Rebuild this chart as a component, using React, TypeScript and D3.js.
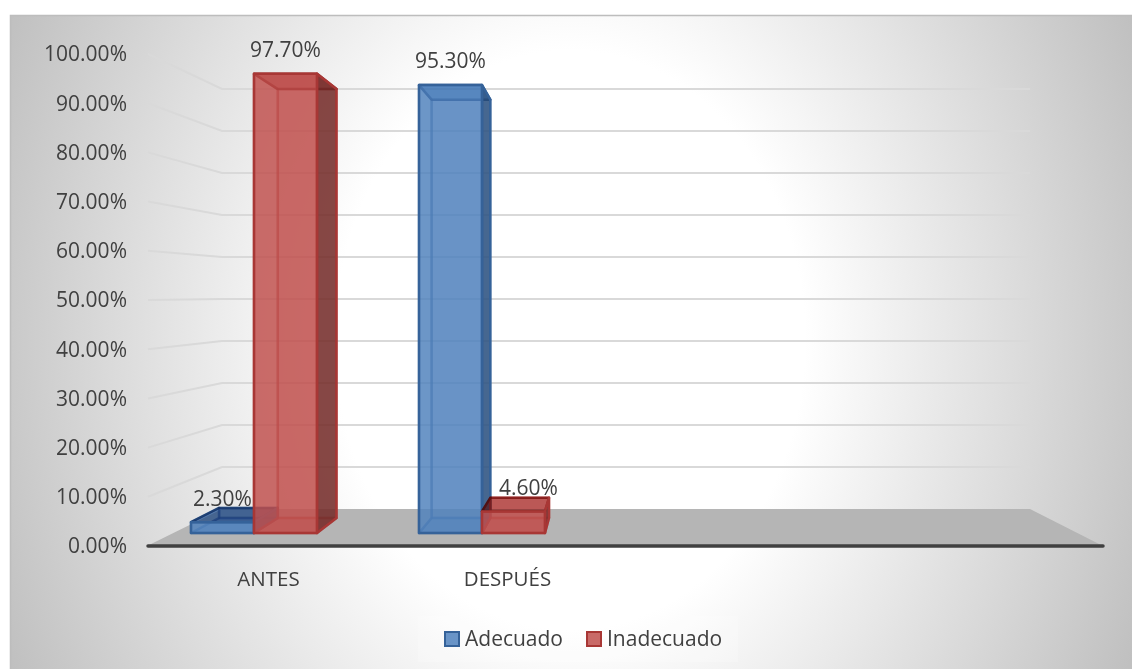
import { scaleBand, scaleLinear } from 'd3';

const categories = ['ANTES', 'DESPUÉS', ' ', '  '];
const seriesNames = ['Adecuado', 'Inadecuado'];
const adecuado = [2.3, 95.3];
const inadecuado = [97.7, 4.6];
const yTicks = [0, 10, 20, 30, 40, 50, 60, 70, 80, 90, 100];

const seriesValues = [adecuado, inadecuado];
const seriesColors = [
  { face: '#4f81bd', line: '#356299', side: '#2b4f7c' },
  { face: '#c0504d', line: '#a83735', side: '#702c2a' },
];

const width = 1132;
const height = 669;

// wall / floor of the 3d box
const yFront = scaleLinear().domain([0, 100]).range([546, 54]);
const yBack = scaleLinear().domain([0, 100]).range([509, 89]);
const axisX = scaleBand<string>().domain(categories).range([147, 1103]);

// the bars stand on a plane a little inside the floor
const barFrontY = scaleLinear().domain([0, 100]).range([533, 63]);
const barBackY = scaleLinear().domain([0, 100]).range([518, 79]);
const barX = scaleBand<string>().domain(categories).range([140, 1052]);
const subX = scaleBand<string>()
  .domain(seriesNames)
  .range([0, barX.bandwidth()])
  .paddingInner(0)
  .paddingOuter(0.81);
const toBackX = scaleLinear().domain([192, 545]).range([220, 549]);

const pts = (p: number[][]) => p.map((d) => d.join(',')).join(' ');

function Bar({ cat, name, value, si }: { cat: string; name: string; value: number; si: number }) {
  const x0 = (barX(cat) ?? 0) + (subX(name) ?? 0);
  const x1 = x0 + subX.bandwidth();
  const bx0 = toBackX(x0);
  const bx1 = toBackX(x1);
  const fy0 = barFrontY(0);
  const fy1 = barFrontY(value);
  const by0 = barBackY(0);
  const by1 = barBackY(value);
  const c = seriesColors[si];
  const common = { stroke: c.line, strokeWidth: 2.5, strokeLinejoin: 'round' as const };
  return (
    <g>
      {/* back */}
      <polygon points={pts([[bx0, by1], [bx1, by1], [bx1, by0], [bx0, by0]])} fill={c.face} fillOpacity={0.35} {...common} strokeOpacity={0.45} />
      {/* floor */}
      <polygon points={pts([[x0, fy0], [x1, fy0], [bx1, by0], [bx0, by0]])} fill={c.face} fillOpacity={0.5} {...common} strokeOpacity={0.45} />
      {/* left */}
      <polygon points={pts([[x0, fy1], [bx0, by1], [bx0, by0], [x0, fy0]])} fill={c.face} fillOpacity={0.25} {...common} strokeOpacity={0.45} />
      {/* top */}
      <polygon
        points={pts([[x0, fy1], [x1, fy1], [bx1, by1], [bx0, by1]])}
        fill={c.face}
        fillOpacity={0.8}
        style={{ mixBlendMode: 'multiply' }}
        {...common}
      />
      {/* right */}
      <polygon points={pts([[x1, fy1], [bx1, by1], [bx1, by0], [x1, fy0]])} fill={c.side} fillOpacity={0.82} {...common} />
      {/* front */}
      <polygon points={pts([[x0, fy1], [x1, fy1], [x1, fy0], [x0, fy0]])} fill={c.face} fillOpacity={0.78} {...common} />
    </g>
  );
}

export default function App() {
  const textStyle = { fontFamily: '"Open Sans", "Noto Sans", sans-serif', fill: '#404040' };
  return (
    <svg
      width={width}
      height={height}
      viewBox={`0 0 ${width} ${height}`}
      style={{ position: 'absolute', left: 0, top: 0, background: '#fff' }}
    >
      <defs>
        <radialGradient
          id="bg"
          gradientUnits="userSpaceOnUse"
          cx={0}
          cy={0}
          r={1.03}
          gradientTransform="translate(570,340) scale(600,740)"
        >
          <stop offset="0" stopColor="#ffffff" />
          <stop offset="0.38" stopColor="#ffffff" />
          <stop offset="1" stopColor="#c0c0c0" />
        </radialGradient>
      </defs>
      <rect x={10.5} y={15.5} width={width} height={height} fill="url(#bg)" stroke="#bdbdbd" strokeWidth={1.5} />

      {/* floor */}
      <polygon
        points={pts([[axisX.range()[0], yFront(0)], [222, yBack(0)], [1030, yBack(0)], [axisX.range()[1], yFront(0)]])}
        fill="#b5b5b5"
      />

      {/* gridlines */}
      {yTicks.slice(1).map((t) => (
        <polyline
          key={t}
          points={pts([[148, yFront(t)], [222, yBack(t)], [1030, yBack(t)]])}
          fill="none"
          stroke="#d9d9d9"
          strokeWidth={2}
        />
      ))}

      {/* axis line */}
      <line x1={148} x2={1103} y1={yFront(0)} y2={yFront(0)} stroke="#404040" strokeWidth={3.5} strokeLinecap="round" />

      {yTicks.map((t) => (
        <text key={t} x={127} y={yFront(t)} dy="0.35em" textAnchor="end" fontSize={21} style={textStyle}>
          {t.toFixed(2)}%
        </text>
      ))}

      {categories.map((c) => (
        <text key={c} x={(axisX(c) ?? 0) + axisX.bandwidth() / 2 + 2} y={579} dy="0.35em" textAnchor="middle" fontSize={20.5} style={textStyle}>
          {c.trim()}
        </text>
      ))}

      {/* bars */}
      {categories.slice(0, 2).map((c, ci) =>
        seriesNames.map((name, si) => (
          <Bar key={c + name} cat={c} name={name} value={seriesValues[si][ci]} si={si} />
        ))
      )}

      {/* data labels */}
      {categories.slice(0, 2).map((c, ci) =>
        seriesNames.map((name, si) => {
          const value = seriesValues[si][ci];
          const x = (barX(c) ?? 0) + (subX(name) ?? 0) + subX.bandwidth() / 2;
          // the short red bar has its label pushed right in the original
          const nudge = si === 1 && value < 10 ? 15 : 0;
          return (
            <text key={c + name} x={x + nudge} y={barFrontY(value) - 24} dy="0.35em" textAnchor="middle" fontSize={21} style={textStyle}>
              {value.toFixed(2)}%
            </text>
          );
        })
      )}

      {/* legend */}
      <rect x={418} y={616} width={320} height={46} fill="#fff" fillOpacity={0.22} />
      <rect x={445} y={632} width={14} height={14} fill={seriesColors[0].face} fillOpacity={0.85} stroke={seriesColors[0].line} strokeWidth={2} />
      <text x={465} y={639} dy="0.35em" fontSize={21} style={textStyle}>{seriesNames[0]}</text>
      <rect x={587} y={632} width={14} height={14} fill={seriesColors[1].face} fillOpacity={0.85} stroke={seriesColors[1].line} strokeWidth={2} />
      <text x={607} y={639} dy="0.35em" fontSize={21} style={textStyle}>{seriesNames[1]}</text>
    </svg>
  );
}
